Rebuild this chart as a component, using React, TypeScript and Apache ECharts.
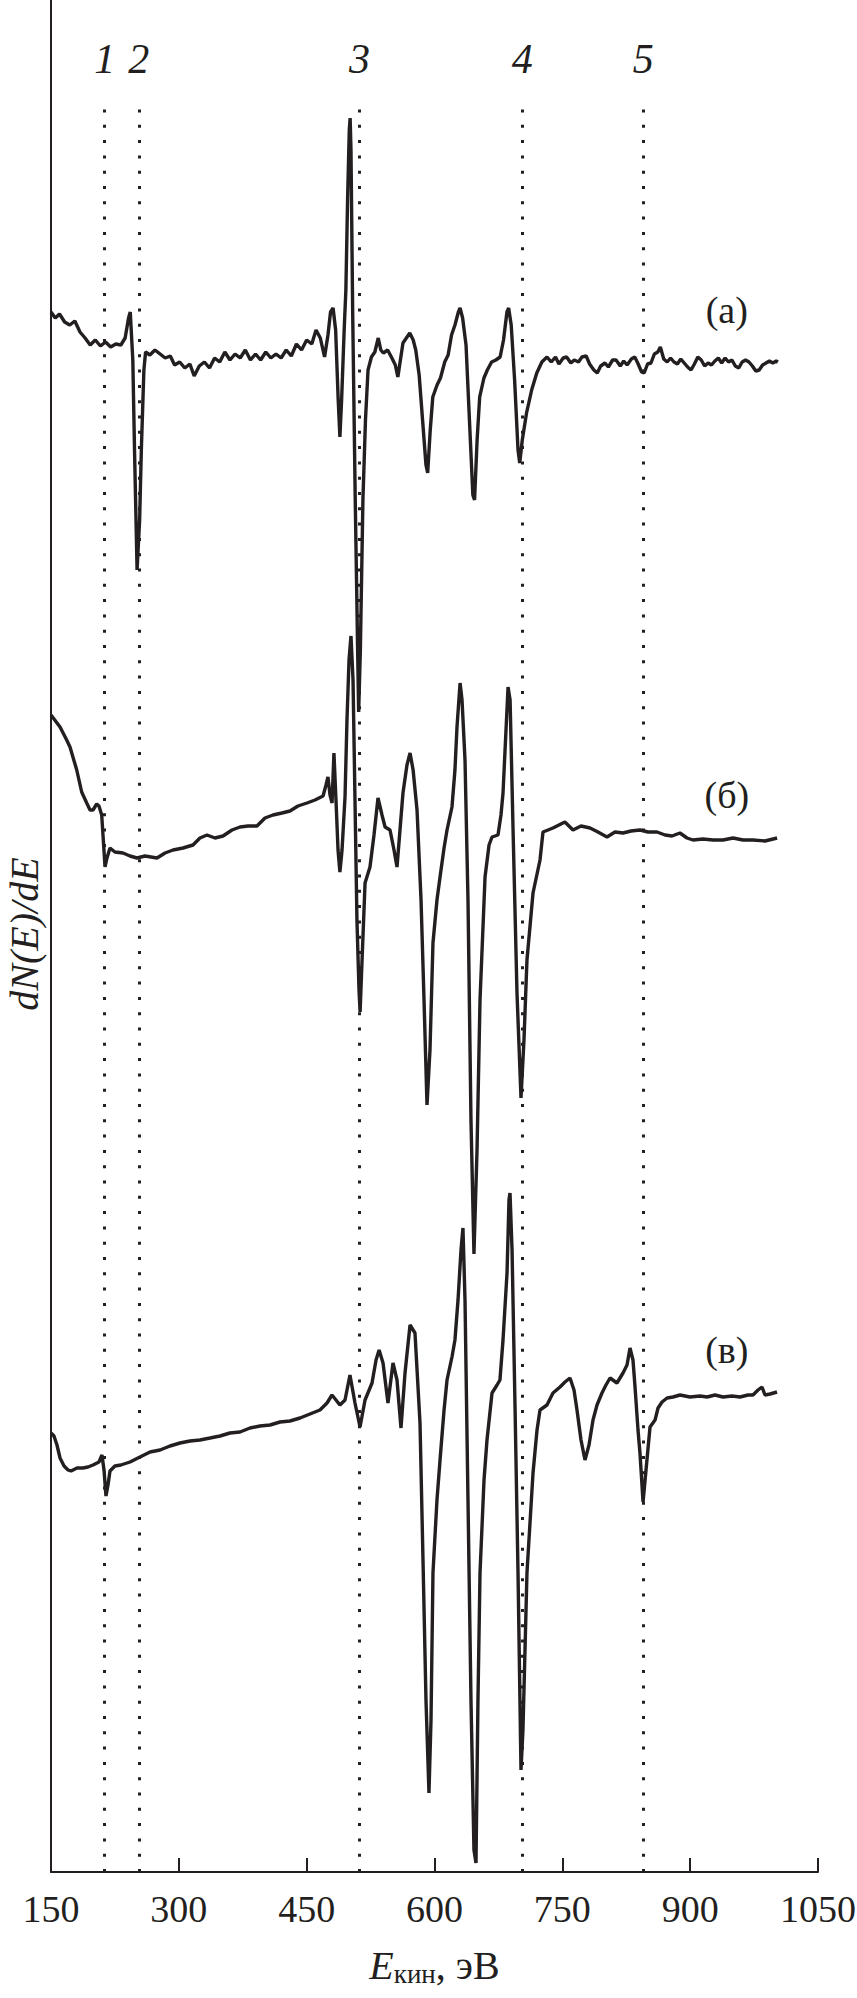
import React, { useEffect, useRef } from "react";
import * as echarts from "echarts";

// Energy axis (eV)
const xMin = 150;
const xMax = 1050;
const xStep = 150;
// Vertical range of the (offset) dN(E)/dE axis, arbitrary units
const yMin = 0;
const yMax = 187.2;
const yTitle = "dN(E)/dE";

// Dotted reference lines and their labels
const markerEnergies = [213, 253, 512, 703, 845];
const markerLabels = ["1", "2", "3", "4", "5"];
const markerTop = 176.8;

// Spectrum labels and their anchor [E, value]
const spectrumNames = ["(а)", "(б)", "(в)"];
const spectrumLabelAnchors = [
  [943, 156.2],
  [943, 107.7],
  [943, 52.2],
];

// Spectrum (а): [E, dN/dE]
const spectrumA = [
  [150, 156.0], [155, 155.4], [160, 155.8], [166, 155.0], [172, 154.7], [178, 155.1],
  [184, 154.0], [190, 153.4], [196, 152.7], [202, 153.2], [208, 152.6], [214, 153.0],
  [220, 152.5], [226, 152.8], [232, 152.7], [237, 153.4], [241, 155.4], [243, 156.0],
  [246, 151.2], [248, 142.2], [251, 130.2], [254, 135.2], [256, 142.2], [259, 150.2],
  [261, 152.0], [266, 151.7], [272, 152.2], [278, 151.8], [284, 151.4], [290, 151.6],
  [295, 150.7], [301, 151.0], [307, 150.4], [313, 150.8], [318, 149.6], [324, 150.6],
  [330, 151.0], [336, 150.4], [342, 151.4], [348, 151.0], [354, 152.0], [360, 151.2],
  [366, 151.8], [372, 151.4], [378, 152.2], [384, 151.2], [390, 151.8], [396, 151.2],
  [402, 152.0], [408, 151.4], [414, 151.8], [420, 151.4], [426, 152.2], [432, 151.6],
  [438, 152.8], [444, 152.2], [450, 153.2], [456, 152.8], [461, 154.2], [466, 153.4],
  [471, 151.5], [475, 153.7], [478, 156.0], [481, 156.4], [484, 154.2], [487, 147.2],
  [489, 143.5], [491, 147.2], [494, 154.2], [496, 158.2], [498, 167.2], [500, 174.2],
  [501, 175.4], [502, 172.2], [504, 155.9], [507, 137.2], [510, 121.2], [511, 116.0],
  [513, 122.2], [516, 137.2], [519, 145.2], [522, 150.2], [526, 151.5], [530, 152.0],
  [534, 153.4], [537, 152.2], [540, 151.9], [545, 152.2], [550, 151.4], [554, 150.7],
  [557, 149.5], [560, 151.2], [563, 152.9], [567, 153.4], [571, 153.9], [575, 153.2],
  [578, 152.2], [582, 149.7], [586, 145.2], [590, 140.7], [592, 139.9], [595, 144.2],
  [598, 147.5], [603, 148.7], [607, 149.4], [612, 151.0], [616, 151.7], [620, 153.7],
  [624, 154.7], [628, 156.0], [630, 156.4], [633, 155.4], [637, 152.7], [641, 145.2],
  [645, 137.7], [647, 137.2], [650, 143.2], [653, 147.5], [658, 149.4], [662, 150.2],
  [667, 151.0], [672, 151.2], [677, 151.5], [681, 153.2], [685, 156.0], [687, 156.4],
  [690, 154.7], [694, 149.2], [698, 142.2], [700, 140.9], [703, 143.2], [708, 145.9],
  [714, 148.2], [720, 149.9], [726, 151.0], [732, 151.5], [737, 151.0], [742, 151.5],
  [746, 150.8], [751, 151.4], [755, 151.5], [760, 150.9], [764, 151.2], [769, 151.0],
  [773, 151.5], [778, 151.6], [782, 150.8], [787, 150.2], [791, 149.9], [795, 150.6],
  [800, 150.9], [804, 150.5], [809, 151.2], [813, 151.2], [818, 150.6], [822, 151.1],
  [826, 150.7], [831, 151.3], [835, 151.5], [839, 150.8], [843, 150.0], [846, 149.9],
  [850, 150.8], [854, 150.9], [858, 151.8], [862, 152.0], [865, 152.5], [869, 151.3],
  [873, 151.0], [877, 151.4], [881, 151.0], [885, 150.8], [889, 151.3], [893, 150.9],
  [897, 150.5], [901, 150.2], [905, 150.8], [909, 151.5], [913, 151.2], [917, 150.6],
  [921, 150.9], [925, 150.7], [929, 151.1], [933, 151.4], [937, 150.9], [941, 151.4],
  [945, 151.0], [949, 151.2], [953, 150.6], [957, 150.4], [961, 151.0], [965, 151.2],
  [969, 151.0], [973, 150.6], [977, 150.1], [981, 150.2], [985, 150.7], [989, 150.9],
  [993, 151.1], [997, 150.9], [1001, 151.1], [1003, 151.0],
];

// Spectrum (б): [E, dN/dE]
const spectrumB = [
  [150, 115.7], [160.6, 114.5], [168.4, 113.2], [172.3, 112.5], [180.2, 110.2], [186, 108.0],
  [191.9, 106.9], [195.8, 106.2], [199.3, 106.2], [203.6, 106.8], [206.3, 106.6], [209.5, 105.7],
  [211, 103.7], [213.4, 100.5], [215.7, 101.4], [219.2, 102.4], [225, 102.0], [234.5, 101.9],
  [242.7, 101.6], [250.9, 101.4], [260.3, 101.6], [274.4, 101.4], [283.8, 101.9], [293.2, 102.2],
  [304.9, 102.4], [316.6, 102.7], [324.8, 103.4], [333, 103.7], [342.4, 103.4], [351.8, 103.6],
  [362.4, 104.2], [371.8, 104.5], [381.2, 104.6], [391.7, 104.6], [401.1, 105.4], [410.5, 105.7],
  [421, 105.9], [430.4, 106.1], [439.8, 106.6], [450.4, 106.9], [459.8, 107.2], [469.2, 107.6],
  [472.7, 108.7], [475, 109.5], [477.4, 107.7], [479.8, 106.9], [482, 111.9], [484.4, 107.2],
  [486.8, 102.2], [489, 100.0], [491.5, 102.2], [495, 107.5], [497.3, 115.2], [499.7, 121.2],
  [502, 123.6], [504.4, 119.2], [506.7, 107.2], [509, 95.2], [511.4, 88.2], [512.7, 86.0],
  [515, 91.2], [518.5, 98.9], [524.3, 100.5], [529, 103.7], [533.7, 107.4], [538.4, 105.7],
  [542, 104.5], [547.8, 104.2], [552.5, 102.2], [556, 100.5], [559.5, 104.2], [563, 107.9],
  [567.7, 110.7], [571.3, 111.9], [574.9, 110.2], [579.5, 106.2], [584.2, 97.2], [587.7, 87.2],
  [591.2, 76.7], [594.7, 82.2], [598.2, 92.9], [602.9, 97.2], [606.5, 99.5], [611.2, 102.4],
  [614.7, 104.2], [620.5, 106.5], [624, 110.2], [626.4, 114.5], [630, 118.9], [632.3, 117.2],
  [635.8, 111.2], [639.3, 97.2], [642.8, 75.2], [646.3, 61.8], [649.9, 72.2], [653.4, 87.2],
  [659.3, 99.5], [664, 102.7], [667.5, 103.5], [674.5, 103.7], [678, 105.7], [680.4, 107.9],
  [683.9, 114.2], [686.3, 118.5], [688.7, 117.2], [692.1, 104.5], [696.8, 87.9], [701.5, 77.4],
  [705, 83.2], [708.5, 91.2], [715.6, 97.9], [723.8, 101.2], [727.3, 104.0], [733.2, 104.2],
  [739, 104.4], [746, 104.7], [753, 105.0], [762.5, 104.2], [771.9, 104.6], [782.5, 104.4],
  [791.8, 104.0], [802.4, 103.5], [811.8, 104.0], [821.2, 103.9], [830.6, 104.1], [841.1, 104.2],
  [850.5, 104.0], [861.1, 104.0], [870.5, 103.7], [878.7, 103.6], [888, 103.9], [896.3, 103.4],
  [903.3, 103.2], [915, 103.3], [926.8, 103.2], [938.5, 103.2], [950.3, 103.4], [962, 103.2],
  [973.7, 103.2], [987.8, 103.1], [1002, 103.4],
];

// Spectrum (в): [E, dN/dE]
const spectrumC = [
  [150, 43.9], [153.5, 43.6], [157, 42.7], [160.6, 41.4], [165.3, 40.6], [170, 40.2],
  [173.5, 40.1], [180.5, 40.4], [187.5, 40.4], [193.4, 40.5], [199.3, 40.7], [206.3, 41.0],
  [209.8, 41.7], [212.2, 40.2], [214.5, 37.6], [216.9, 38.7], [219.2, 40.1], [225, 40.6],
  [232, 40.7], [242.7, 41.0], [254.4, 41.5], [266.2, 42.0], [278, 42.2], [289.6, 42.6],
  [301.4, 42.9], [313.1, 43.1], [324.8, 43.2], [336.6, 43.4], [348.3, 43.6], [360, 43.9],
  [371.8, 44.0], [383.5, 44.4], [395.2, 44.6], [407, 44.7], [418.7, 45.0], [430.4, 45.1],
  [442.2, 45.4], [453.9, 45.8], [465.6, 46.2], [473.9, 46.9], [479.7, 47.7], [484.4, 47.2],
  [489, 46.7], [495, 47.2], [500.8, 49.7], [506.7, 46.9], [512.6, 44.5], [518.5, 47.2],
  [526.7, 48.9], [531.4, 51.2], [535, 52.2], [539.6, 50.9], [545.4, 46.9], [551.3, 50.9],
  [556, 49.2], [560.7, 44.4], [565.4, 49.9], [571.3, 54.7], [577.1, 53.9], [583, 44.9],
  [586.5, 31.2], [590, 17.2], [593.5, 7.9], [595.9, 15.2], [598.2, 29.9], [602.9, 37.2],
  [606.5, 41.2], [611.2, 46.2], [614.7, 49.2], [620.5, 51.5], [624, 53.2], [627.6, 57.2],
  [631.1, 62.2], [633.4, 64.4], [635.8, 57.2], [639.3, 37.2], [642.8, 17.2], [646.3, 2.2],
  [648.7, 0.9], [651, 17.2], [653.4, 29.9], [658.1, 39.2], [661.6, 43.2], [667.5, 47.9],
  [673.4, 48.7], [676.8, 49.2], [680.4, 53.2], [685.1, 59.9], [687.4, 67.2], [688.6, 67.9],
  [691, 62.2], [694.5, 46.5], [698, 29.9], [701.5, 10.2], [703.8, 14.2], [708.5, 29.9],
  [715.6, 39.9], [720.3, 44.2], [723.8, 46.2], [732, 46.7], [739, 47.9], [747.3, 48.5],
  [753.1, 49.0], [759, 49.4], [763.7, 48.2], [767.2, 46.2], [771.9, 43.2], [776.6, 41.2],
  [781.3, 42.7], [786, 45.2], [790.7, 46.7], [796.5, 47.9], [801.2, 48.7], [806, 49.4],
  [814.1, 48.9], [821.2, 49.9], [825.9, 50.7], [829.4, 52.4], [832.9, 51.2], [835.3, 48.5],
  [838.8, 44.2], [841.1, 41.9], [844.7, 37.0], [848.2, 40.2], [852.9, 44.5], [858.8, 45.2],
  [862.3, 46.4], [867, 47.0], [872.9, 47.4], [879.9, 47.5], [888.1, 47.7], [899.8, 47.5],
  [911.6, 47.6], [919.8, 47.5], [929.2, 47.7], [938.5, 47.5], [949.1, 47.6], [958.5, 47.5],
  [967.9, 47.7], [973.7, 47.7], [979.6, 48.2], [984.3, 48.5], [987.8, 47.7], [993.7, 47.8],
  [1001.9, 48.0],
];

const spectra = [spectrumA, spectrumB, spectrumC];

const INK = "#231f20";
const FONT = "'Liberation Serif', 'DejaVu Serif', serif";

export default function App() {
  const ref = useRef<HTMLDivElement>(null);

  useEffect(() => {
    if (!ref.current) return;
    const chart = echarts.init(ref.current, undefined, { renderer: "svg" });

    const markLineData = markerEnergies.map((e) => [
      { coord: [e, yMin] },
      { coord: [e, markerTop] },
    ]);

    const series: any[] = spectra.map((d, i) => ({
      type: "line",
      data: d,
      showSymbol: false,
      symbol: "none",
      lineStyle: { color: INK, width: 3.4 },
      z: 3,
      markPoint: {
        silent: true,
        symbol: "circle",
        symbolSize: 1,
        itemStyle: { color: "rgba(0,0,0,0)" },
        data: [
          {
            coord: spectrumLabelAnchors[i],
            label: {
              show: true,
              position: "inside",
              formatter: spectrumNames[i],
              fontFamily: FONT,
              fontSize: 38,
              color: INK,
            },
          },
        ],
      },
    }));

    series.push({
      type: "line",
      data: [],
      symbol: "none",
      z: 2,
      markLine: {
        silent: true,
        symbol: ["none", "none"],
        lineStyle: { color: INK, type: [3, 12.3], width: 3 },
        label: {
          show: true,
          position: "end",
          formatter: (p: any) => markerLabels[p.dataIndex],
          distance: 24,
          fontFamily: FONT,
          fontStyle: "italic",
          fontSize: 42,
          color: INK,
        },
        data: markLineData,
      },
    });

    chart.setOption({
      animation: false,
      backgroundColor: "#ffffff",
      grid: {
        left: 51,
        right: 39,
        top: 0,
        bottom: 126,
        containLabel: false,
        outerBoundsMode: "none",
      },
      graphic: [
        {
          type: "text",
          x: 24,
          y: 934,
          rotation: Math.PI / 2,
          silent: true,
          style: {
            text: yTitle,
            fontFamily: FONT,
            fontStyle: "italic",
            fontSize: 40,
            fill: INK,
            align: "center",
            verticalAlign: "middle",
          },
        },
      ],
      xAxis: {
        type: "value",
        min: xMin,
        max: xMax,
        interval: xStep,
        axisLine: { show: true, lineStyle: { color: INK, width: 2 } },
        axisTick: { show: true, inside: true, length: 14, lineStyle: { color: INK, width: 2 } },
        axisLabel: {
          fontFamily: FONT,
          fontSize: 38,
          color: INK,
          margin: 18,
          formatter: (v: number) => String(v),
        },
        splitLine: { show: false },
        name: "{e|E}{s|кин}{n|, эВ}",
        nameLocation: "middle",
        nameGap: 72,
        nameTextStyle: {
          color: INK,
          rich: {
            e: { fontFamily: FONT, fontStyle: "italic", fontSize: 40, color: INK },
            s: { fontFamily: FONT, fontSize: 27, color: INK, padding: [16, 0, 0, 0] },
            n: { fontFamily: FONT, fontSize: 40, color: INK },
          },
        },
      },
      yAxis: {
        type: "value",
        min: yMin,
        max: yMax,
        axisLine: { show: true, lineStyle: { color: INK, width: 2 } },
        axisTick: { show: false },
        axisLabel: { show: false },
        splitLine: { show: false },
      },
      series,
    });

    return () => chart.dispose();
  }, []);

  return (
    <div
      ref={ref}
      style={{ position: "absolute", left: 0, top: 0, width: 857, height: 1998 }}
    />
  );
}
